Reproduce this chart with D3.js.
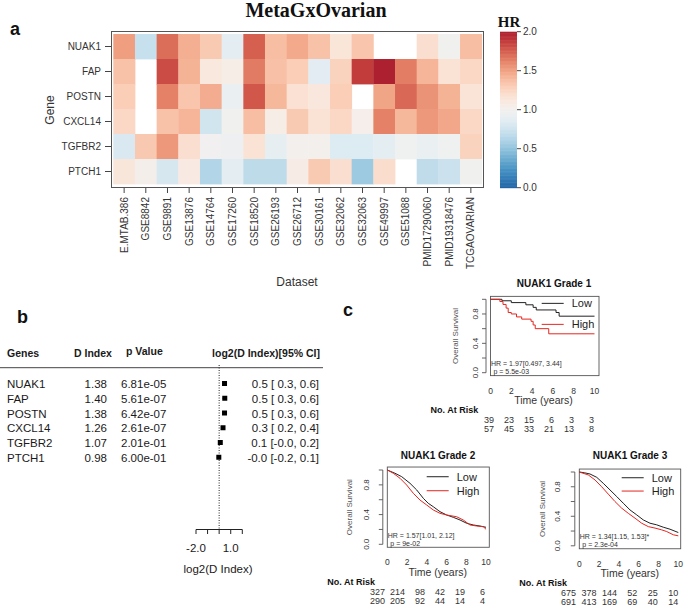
<!DOCTYPE html>
<html><head><meta charset="utf-8">
<script src="https://cdn.jsdelivr.net/npm/d3@7"></script>
<style>
body{margin:0;background:#fff}
svg{display:block}
</style>
</head><body>
<svg id="chart" width="685" height="610"></svg>
<script>
// ---------------- DATA ----------------
const genes = ["NUAK1","FAP","POSTN","CXCL14","TGFBR2","PTCH1"];
const datasets = ["E.MTAB.386","GSE8842","GSE9891","GSE13876","GSE14764","GSE17260","GSE18520","GSE26193","GSE26712","GSE30161","GSE32062","GSE32063","GSE49997","GSE51088","PMID17290060","PMID19318476","TCGAOVARIAN"];
const hrNUAK1  = [1.52,0.72,1.70,1.45,1.32,0.88,1.75,1.38,1.47,1.36,1.15,1.34,null,null,1.20,0.98,1.38];
const hrFAP    = [1.36,null,1.82,1.43,1.12,1.06,1.65,1.37,1.30,0.87,1.27,1.88,2.00,1.64,1.42,1.17,1.24];
const hrPOSTN  = [1.30,null,1.63,1.34,1.46,0.93,1.78,1.41,1.18,1.13,1.30,null,1.49,1.72,1.56,1.43,1.16];
const hrCXCL14 = [1.24,null,1.36,1.42,0.77,0.98,1.38,1.06,1.32,1.17,1.24,1.04,1.63,1.41,1.54,1.48,1.24];
const hrTGFBR2 = [0.82,1.33,1.54,1.20,0.99,0.95,1.17,0.90,1.01,1.01,0.84,0.84,0.88,0.97,0.93,0.97,1.27];
const hrPTCH1  = [1.14,1.03,0.80,1.10,0.63,0.88,0.68,0.68,1.08,1.32,1.20,0.55,1.21,null,0.69,0.74,0.98];
const hrTicks = [0,0.5,1,1.5,2];

const forestGenes = ["NUAK1","FAP","POSTN","CXCL14","TGFBR2","PTCH1"];
const dIndex = [1.38,1.40,1.38,1.26,1.07,0.98];
const pValue = ["6.81e-05","5.61e-07","6.42e-07","2.61e-07","2.01e-01","6.00e-01"];
const ciLow  = [0.3,0.3,0.3,0.2,-0.0,-0.2];
const ciHigh = [0.6,0.6,0.6,0.4,0.2,0.1];
const ciText = ["0.5 [ 0.3, 0.6]","0.5 [ 0.3, 0.6]","0.5 [ 0.3, 0.6]","0.3 [ 0.2, 0.4]","0.1 [-0.0, 0.2]","-0.0 [-0.2, 0.1]"];
const forestTicks = [-2,-1,0,1,2];
const forestTickLabels = [-2,1];

// KM curves: [time (years), survival]
const g1Low  = [[0,1],[1.1,0.98],[2.0,0.955],[3.4,0.925],[4.1,0.89],[4.4,0.855],[6.3,0.82],[6.6,0.77],[10,0.77]];
const g1High = [[0,1],[0.9,0.97],[1.2,0.93],[1.5,0.88],[1.7,0.82],[2.0,0.80],[2.5,0.76],[3.0,0.73],[3.9,0.70],[4.1,0.65],[4.3,0.60],[5.6,0.53],[10,0.53]];
const g2Low  = [[0,1],[0.78,0.956],[1.46,0.91],[2.3,0.821],[2.98,0.731],[3.65,0.619],[4.15,0.552],[4.66,0.506],[5.34,0.439],[6.02,0.394],[6.69,0.363],[7.37,0.327],[8.04,0.283],[8.71,0.26],[9.39,0.246],[10,0.229]];
const g2High = [[0,1],[0.61,0.956],[1.29,0.888],[1.96,0.798],[2.64,0.686],[3.31,0.596],[3.99,0.529],[4.66,0.462],[5.34,0.417],[6.02,0.394],[7.03,0.371],[7.7,0.327],[8.38,0.26],[9.06,0.246],[9.73,0.237],[10,0.202]];
const g3Low  = [[0,1],[0.5,0.99],[1.08,0.973],[1.76,0.928],[2.42,0.847],[3.1,0.757],[3.78,0.667],[4.44,0.577],[5.12,0.486],[5.8,0.419],[6.46,0.351],[7.14,0.306],[7.82,0.284],[8.48,0.252],[9.16,0.225],[10,0.18]];
const g3High = [[0,1],[0.91,0.96],[1.59,0.892],[2.26,0.80],[2.93,0.70],[3.6,0.60],[4.28,0.51],[4.95,0.44],[5.63,0.374],[6.3,0.306],[6.97,0.26],[7.65,0.24],[8.32,0.216],[8.83,0.193],[9.5,0.149],[10,0.135]];
const riskTimes = [0,2,4,6,8,10];
const g1RiskLow = [39,23,15,6,3,3], g1RiskHigh = [57,45,33,21,13,8];
const g2RiskLow = [327,214,98,42,19,6], g2RiskHigh = [290,205,92,44,14,4];
const g3RiskLow = [675,378,144,52,25,10], g3RiskHigh = [691,413,169,69,40,14];
const kmXTicks = [0,2,4,6,8,10];
const kmYTicks = [0,0.2,0.4,0.6,0.8,1.0];
const kmYLabels = [0,0.4,0.8];

// ---------------- DRAW ----------------
const SANS = '"Liberation Sans", Arial, Helvetica, sans-serif';
const SERIF = '"Liberation Serif", "Times New Roman", serif';
const svg = d3.select("#chart");

// ===== Panel a: heatmap =====
const colT = d3.scaleLinear().domain([0,2]).range([0.9,0.1]).clamp(true);
const color = v => d3.interpolateRdBu(colT(v));
const hrRows = [hrNUAK1,hrFAP,hrPOSTN,hrCXCL14,hrTGFBR2,hrPTCH1];

const xB = d3.scaleBand().domain(datasets).range([113.3,481.7]);
const yB = d3.scaleBand().domain(genes).range([34,184]);
const cells = genes.flatMap((g,i)=>datasets.map((d,j)=>({g,d,v:hrRows[i][j]}))).filter(c=>c.v!=null);

const ha = svg.append("g");
ha.selectAll("rect.cell").data(cells).join("rect")
  .attr("x",c=>xB(c.d)).attr("y",c=>yB(c.g))
  .attr("width",xB.bandwidth()+0.4).attr("height",yB.bandwidth()+0.4)
  .attr("fill",c=>color(c.v));
ha.append("rect").attr("x",111.5).attr("y",31.5).attr("width",372).attr("height",156)
  .attr("fill","none").attr("stroke","#555").attr("stroke-width",1);
ha.selectAll("line.yt").data(genes).join("line")
  .attr("x1",105).attr("x2",111).attr("y1",g=>yB(g)+yB.bandwidth()/2).attr("y2",g=>yB(g)+yB.bandwidth()/2)
  .attr("stroke","#444");
ha.selectAll("text.yl").data(genes).join("text")
  .attr("x",101).attr("y",g=>yB(g)+yB.bandwidth()/2).attr("dy","0.35em")
  .attr("text-anchor","end").attr("font-family",SANS).attr("font-size",10).attr("fill","#333").text(g=>g);
ha.selectAll("line.xt").data(datasets).join("line")
  .attr("x1",d=>xB(d)+xB.bandwidth()/2).attr("x2",d=>xB(d)+xB.bandwidth()/2).attr("y1",188).attr("y2",193)
  .attr("stroke","#444");
ha.selectAll("text.xl").data(datasets).join("text")
  .attr("transform",d=>`translate(${xB(d)+xB.bandwidth()/2},197) rotate(-90)`).attr("dy","0.35em")
  .attr("text-anchor","end").attr("font-family",SANS).attr("font-size",10).attr("fill","#333").text(d=>d);
ha.append("text").attr("transform","translate(54,110) rotate(-90)").attr("text-anchor","middle")
  .attr("font-family",SANS).attr("font-size",12).attr("fill","#333").text("Gene");
ha.append("text").attr("x",297).attr("y",286).attr("text-anchor","middle")
  .attr("font-family",SANS).attr("font-size",12).attr("fill","#333").text("Dataset");
ha.append("text").attr("x",316).attr("y",17).attr("text-anchor","middle")
  .attr("font-family",SERIF).attr("font-weight","bold").attr("font-size",20).attr("fill","#111").text("MetaGxOvarian");
svg.append("text").attr("x",10).attr("y",35).attr("font-family",SANS).attr("font-weight","bold").attr("font-size",18).attr("fill","#111").text("a");

// colorbar
const cbY = d3.scaleLinear().domain([0,2]).range([187.7,31.7]);
const cbSteps = d3.range(0,2,0.01);
ha.selectAll("rect.cb").data(cbSteps).join("rect")
  .attr("x",500).attr("width",17).attr("y",v=>cbY(v+0.01)).attr("height",v=>cbY(v)-cbY(v+0.01)+0.5)
  .attr("fill",v=>color(v+0.005));
ha.selectAll("line.cbt").data(hrTicks).join("line")
  .attr("x1",517).attr("x2",521).attr("y1",v=>cbY(v)).attr("y2",v=>cbY(v)).attr("stroke","#444");
ha.selectAll("text.cbl").data(hrTicks).join("text")
  .attr("x",523).attr("y",v=>cbY(v)).attr("dy","0.35em").attr("font-family",SANS).attr("font-size",10).attr("fill","#333")
  .text(v=>v.toFixed(1));
ha.append("text").attr("x",509).attr("y",27).attr("text-anchor","middle").attr("font-family",SERIF)
  .attr("font-weight","bold").attr("font-size",15).attr("fill","#111").text("HR");

// ===== Panel b: forest =====
const hb = svg.append("g");
hb.append("text").attr("x",17).attr("y",323).attr("font-family",SANS).attr("font-weight","bold").attr("font-size",18).attr("fill","#111").text("b");
const headStyle = s => s.attr("font-family",SANS).attr("font-weight","bold").attr("font-size",10.5).attr("fill","#1a1a1a");
hb.append("text").attr("x",7).attr("y",357).call(headStyle).text("Genes");
hb.append("text").attr("x",74).attr("y",357).call(headStyle).text("D Index");
hb.append("text").attr("x",126).attr("y",355).call(headStyle).text("p Value");
hb.append("text").attr("x",320).attr("y",356.5).attr("text-anchor","end").call(headStyle).text("log2(D Index)[95% CI]");
hb.append("line").attr("x1",0).attr("x2",323).attr("y1",367.7).attr("y2",367.7).attr("stroke","#444");

const fy = d3.scalePoint().domain(forestGenes).range([388,388+14.75*5]);
const fx = d3.scaleLinear().domain([-2,2]).range([196,242.3]);
const rowStyle = s => s.attr("font-family",SANS).attr("font-size",11.5).attr("fill","#1a1a1a");
hb.selectAll("text.fg").data(forestGenes).join("text").attr("x",7).attr("y",g=>fy(g)).call(rowStyle).text(g=>g);
hb.selectAll("text.fd").data(dIndex).join("text").attr("x",107).attr("y",(d,i)=>fy(forestGenes[i])).attr("text-anchor","end").call(rowStyle).text(d=>d.toFixed(2));
hb.selectAll("text.fp").data(pValue).join("text").attr("x",121).attr("y",(d,i)=>fy(forestGenes[i])).call(rowStyle).text(d=>d);
hb.selectAll("text.fc").data(ciText).join("text").attr("x",319).attr("y",(d,i)=>fy(forestGenes[i])).attr("text-anchor","end").call(rowStyle).text(d=>d);
hb.append("line").attr("x1",fx(0)).attr("x2",fx(0)).attr("y1",365).attr("y2",529.5)
  .attr("stroke","#222").attr("stroke-dasharray","1,1.5");
hb.selectAll("line.ci").data(dIndex).join("line")
  .attr("x1",(d,i)=>fx(ciLow[i])).attr("x2",(d,i)=>fx(ciHigh[i]))
  .attr("y1",(d,i)=>fy(forestGenes[i])-4.5).attr("y2",(d,i)=>fy(forestGenes[i])-4.5).attr("stroke","#000");
hb.selectAll("rect.sq").data(dIndex).join("rect")
  .attr("x",d=>fx(Math.log2(d))-2.5).attr("y",(d,i)=>fy(forestGenes[i])-7).attr("width",5).attr("height",5).attr("fill","#000");
hb.append("line").attr("x1",fx(-2)).attr("x2",fx(2)).attr("y1",529.5).attr("y2",529.5).attr("stroke","#222");
hb.selectAll("line.ft").data(forestTicks).join("line")
  .attr("x1",d=>fx(d)).attr("x2",d=>fx(d)).attr("y1",529.5).attr("y2",534).attr("stroke","#222");
hb.selectAll("text.ftl").data(forestTickLabels).join("text")
  .attr("x",d=>fx(d)).attr("y",552).attr("text-anchor","middle").call(rowStyle).text(d=>d.toFixed(1));
hb.append("text").attr("x",218).attr("y",573).attr("text-anchor","middle").call(rowStyle).text("log2(D Index)");

// ===== Panel c: KM =====
svg.append("text").attr("x",343).attr("y",316).attr("font-family",SANS).attr("font-weight","bold").attr("font-size",18).attr("fill","#111").text("c");

function drawKM(cfg){
  const g = svg.append("g");
  const x = d3.scaleLinear().domain([0,10]).range(cfg.xr);
  const y = d3.scaleLinear().domain([0,1]).range(cfg.yr);
  const h = cfg.yr[0]-cfg.yr[1];
  const fTop = cfg.yr[1]-0.04*h, fBot = cfg.yr[0]+0.04*h;
  const fL = cfg.xr[0], fR = cfg.xr[1]+cfg.fpad;
  const txt = s => s.attr("font-family",SANS).attr("fill","#333");
  g.append("rect").attr("x",fL).attr("y",fTop).attr("width",fR-fL).attr("height",fBot-fTop)
    .attr("fill","none").attr("stroke","#555").attr("stroke-width",0.9);
  const ax = fL-4.5;
  g.append("line").attr("x1",ax).attr("x2",ax).attr("y1",y(0)).attr("y2",y(1)).attr("stroke","#555").attr("stroke-width",0.9);
  g.selectAll("line.yt").data(kmYTicks).join("line").attr("x1",ax-4).attr("x2",ax).attr("y1",d=>y(d)).attr("y2",d=>y(d)).attr("stroke","#555").attr("stroke-width",0.9);
  g.selectAll("text.yl").data(kmYLabels).join("text")
    .attr("transform",d=>`translate(${ax-cfg.ylab},${y(d)}) rotate(-90)`).attr("text-anchor","middle").attr("dy","0.35em")
    .attr("font-size",8).call(txt).text(d=>d.toFixed(1));
  g.append("text").attr("transform",`translate(${ax-cfg.oslab},${(y(0)+y(1))/2}) rotate(-90)`).attr("text-anchor","middle").attr("dy","0.35em")
    .attr("font-size",8).call(txt).attr("fill","#555").text("Overall Survival");
  g.selectAll("text.xl").data(kmXTicks).join("text").attr("x",d=>x(d)).attr("y",fBot+18).attr("text-anchor","middle")
    .attr("font-size",8.5).call(txt).text(d=>d);
  g.append("text").attr("x",(x(0)+x(10))/2+1).attr("y",fBot+28.5).attr("text-anchor","middle").attr("font-size",10.5).call(txt).text("Time (years)");
  g.append("text").attr("x",cfg.titleX).attr("y",fTop+cfg.titleDy).attr("text-anchor","middle").attr("font-size",10).attr("font-weight","bold")
    .attr("font-family",SANS).attr("fill","#111").text(cfg.title);
  const line = d3.line().x(d=>x(d[0])).y(d=>y(d[1])).curve(cfg.curve);
  g.append("path").attr("d",line(cfg.low)).attr("fill","none").attr("stroke","#222").attr("stroke-width",1);
  g.append("path").attr("d",line(cfg.high)).attr("fill","none").attr("stroke","#e52620").attr("stroke-width",1);
  const legs = [{n:"Low",c:"#222",dy:cfg.legY[0]},{n:"High",c:"#e52620",dy:cfg.legY[1]}];
  const lx = fR+cfg.legX;
  g.selectAll("line.lg").data(legs).join("line").attr("x1",lx).attr("x2",lx+22).attr("y1",d=>fTop+d.dy).attr("y2",d=>fTop+d.dy).attr("stroke",d=>d.c);
  g.selectAll("text.lg").data(legs).join("text").attr("x",lx+30).attr("y",d=>fTop+d.dy).attr("dy","0.36em").attr("font-size",11).call(txt).attr("fill","#222").text(d=>d.n);
  g.append("text").attr("x",x(0)+0.5).attr("y",y(0)-6.5).attr("font-size",7).call(txt).text(cfg.hr);
  g.append("text").attr("x",x(0)+3).attr("y",y(0)+1.5).attr("font-size",7).call(txt).text(cfg.p);
  g.append("text").attr("x",x(0)-60).attr("y",fBot+37.5).attr("font-size",9).attr("font-weight","bold").attr("font-family",SANS).attr("fill","#111").text("No. At Risk");
  const rx = d3.scaleLinear().domain([0,10]).range([x(0)+cfg.rs,x(10)+cfg.re]);
  g.selectAll("text.r1").data(cfg.rLow).join("text").attr("x",(d,i)=>rx(riskTimes[i])).attr("y",fBot+47.5).attr("text-anchor","end").attr("font-size",9).call(txt).text(d=>d);
  g.selectAll("text.r2").data(cfg.rHigh).join("text").attr("x",(d,i)=>rx(riskTimes[i])).attr("y",fBot+56.5).attr("text-anchor","end").attr("font-size",9).call(txt).text(d=>d);
}

drawKM({title:"NUAK1 Grade 1",xr:[490.5,594.5],yr:[372.7,299.3],fpad:4.5,ylab:10.7,oslab:30.7,titleX:554,titleDy:-9.4,
  low:g1Low,high:g1High,curve:d3.curveStepAfter,legX:-57.3,legY:[7,28],hr:"HR = 1.97[0.497, 3.44]",p:"p = 5.5e-03",
  rLow:g1RiskLow,rHigh:g1RiskHigh,rs:3.5,re:-0.5});
drawKM({title:"NUAK1 Grade 2",xr:[387.3,486],yr:[544.3,470],fpad:3.3,ylab:17,oslab:34,titleX:438,titleDy:-8,
  low:g2Low,high:g2High,curve:d3.curveLinear,legX:-62.6,legY:[9.7,23.7],hr:"HR = 1.57[1.01, 2.12]",p:"p = 9e-02",
  rLow:g2RiskLow,rHigh:g2RiskHigh,rs:-2.3,re:-1});
drawKM({title:"NUAK1 Grade 3",xr:[579.3,678.3],yr:[545.8,472],fpad:2.4,ylab:17.3,oslab:32.7,titleX:630,titleDy:-10,
  low:g3Low,high:g3High,curve:d3.curveLinear,legX:-59,legY:[8.7,22],hr:"HR = 1.34[1.15, 1.53]*",p:"p = 2.3e-04",
  rLow:g3RiskLow,rHigh:g3RiskHigh,rs:-3.3,re:0});
</script>
</body></html>
